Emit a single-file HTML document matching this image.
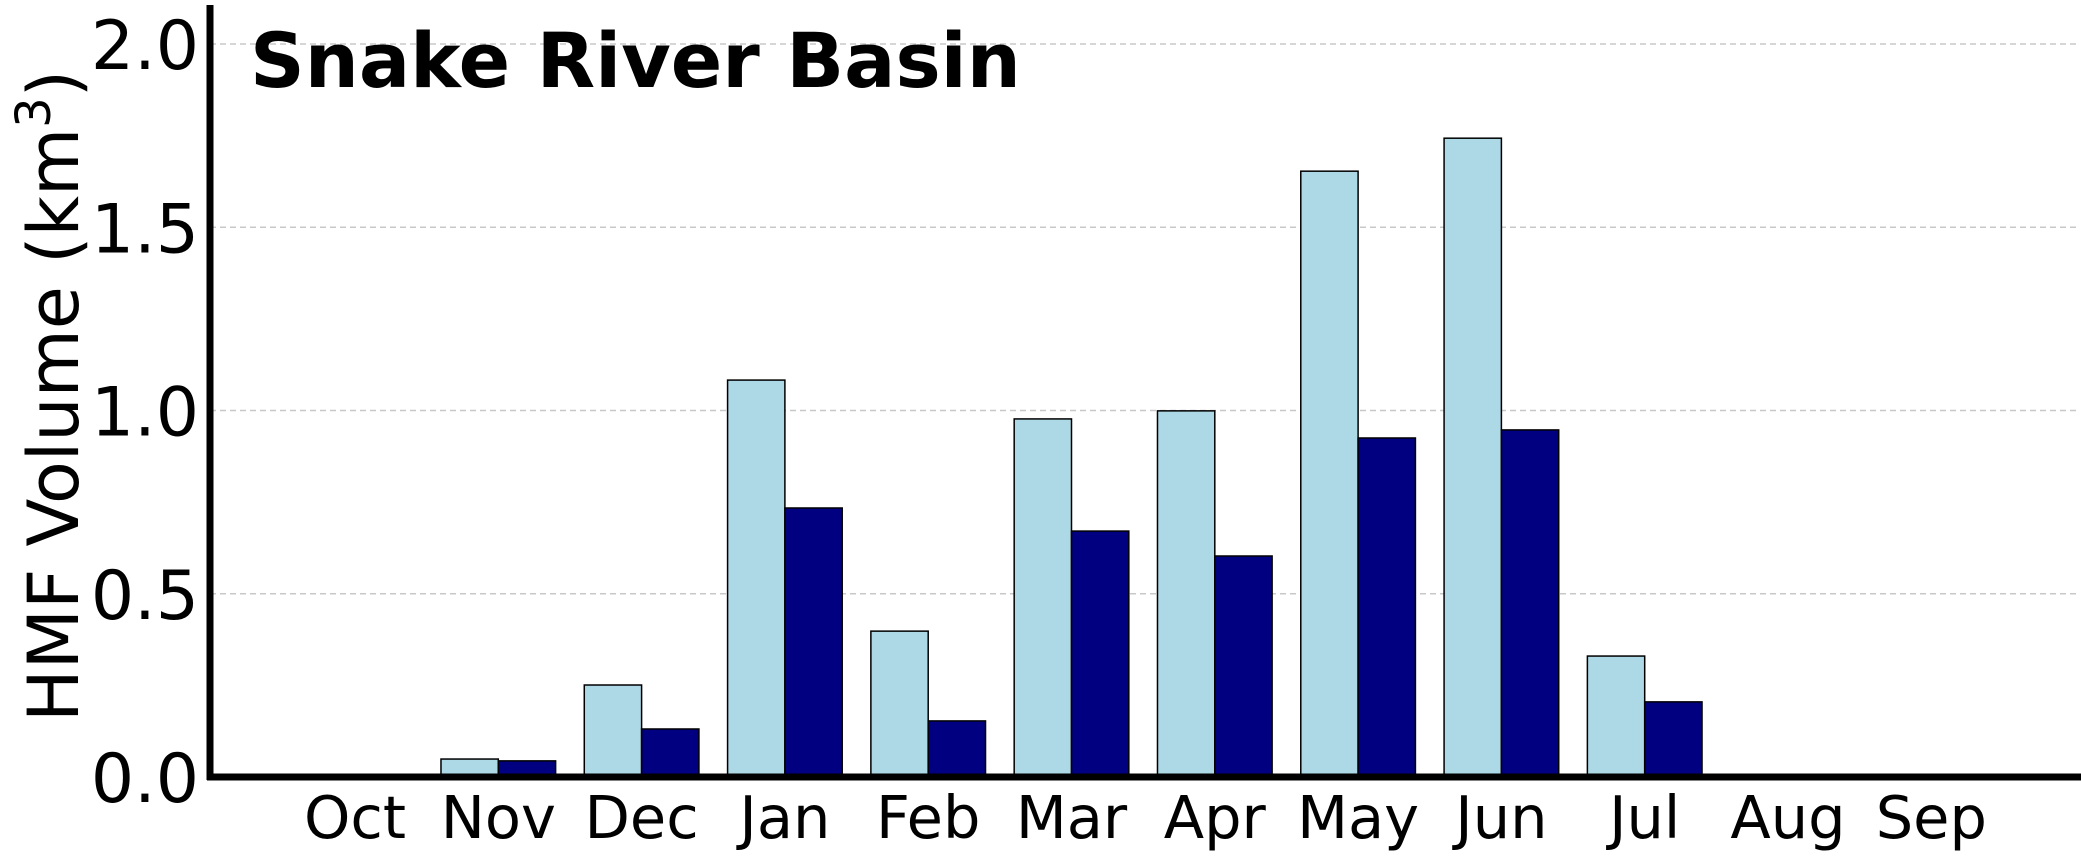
<!DOCTYPE html>
<html><head><meta charset="utf-8"><style>
html,body{margin:0;padding:0;background:#fff;width:2081px;height:859px;overflow:hidden}
text{font-family:"DejaVu Sans","Liberation Sans",sans-serif}
</style></head><body>
<svg id="chart" width="2081" height="859" xmlns="http://www.w3.org/2000/svg">
<g id="grid"></g>
<g id="bars"></g>
<g id="yticks"></g>
<g id="xticks"></g>
<line x1="210" y1="5" x2="210" y2="780" stroke="#000" stroke-width="7"/>
<line x1="207" y1="777" x2="2081" y2="777" stroke="#000" stroke-width="7"/>
<text x="250" y="87" font-size="76" font-weight="bold">Snake River Basin</text>
<text transform="translate(78,396) rotate(-90)" text-anchor="middle" font-size="70">HMF Volume (km<tspan font-size="48" dy="-28">3</tspan><tspan dy="28">)</tspan></text>
</svg>
<script>
const categories=["Oct","Nov","Dec","Jan","Feb","Mar","Apr","May","Jun","Jul","Aug","Sep"];
const seriesLight=[0,0.049,0.251,1.083,0.398,0.977,0.999,1.653,1.743,0.330,0,0];
const seriesDark=[0,0.044,0.131,0.734,0.153,0.671,0.603,0.925,0.947,0.205,0,0];
const yTicks=[0,0.5,1.0,1.5,2.0];
const yTickLabels=["0.0","0.5","1.0","1.5","2.0"];
const NS="http://www.w3.org/2000/svg";
const y0=777,pxPerUnit=366.5;
function yScale(v){return y0-v*pxPerUnit;}
const step=143.3,x0=355;
function xScale(i){return x0+i*step;}
const bw=step*0.4;
function mk(tag,attrs,parent){const e=document.createElementNS(NS,tag);for(const k in attrs)e.setAttribute(k,attrs[k]);parent.appendChild(e);return e;}
const grid=document.getElementById('grid'),bars=document.getElementById('bars'),yt=document.getElementById('yticks'),xt=document.getElementById('xticks');
yTicks.forEach((t,i)=>{
  if(t>0){const l=mk('line',{x1:210,x2:2078,y1:yScale(t),y2:yScale(t),stroke:'#c8c8c8','stroke-width':1.5,'stroke-dasharray':'6,4'},grid);
  
  }
  const tx=mk('text',{x:199,y:yScale(t)+25,'text-anchor':'end','font-size':68},yt);
  tx.textContent=yTickLabels[i];
  
  
});
categories.forEach((c,i)=>{
  const cx=xScale(i);
  const v1=seriesLight[i],v2=seriesDark[i];
  if(v1>0){const r=mk('rect',{x:cx-bw,y:yScale(v1),width:bw,height:y0-yScale(v1),fill:'#add8e6',stroke:'#000','stroke-width':1.5},bars);
  
  }
  if(v2>0){const r=mk('rect',{x:cx,y:yScale(v2),width:bw,height:y0-yScale(v2),fill:'#000080',stroke:'#000','stroke-width':1.5},bars);
  
  }
  const tx=mk('text',{x:cx,y:838,'text-anchor':'middle','font-size':59},xt);
  tx.textContent=c;
  
  
});
</script>
</body></html>
